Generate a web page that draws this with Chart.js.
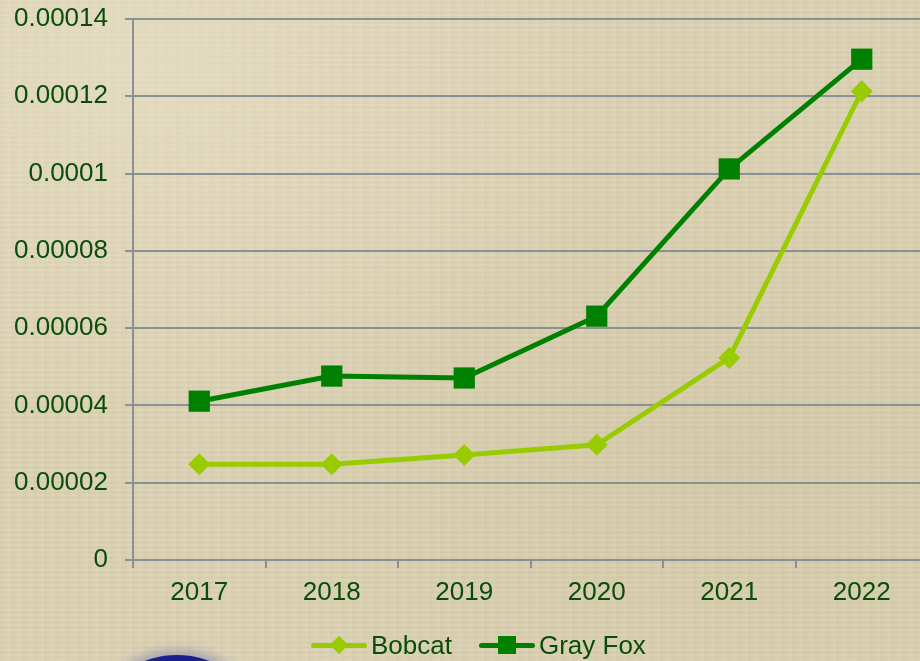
<!DOCTYPE html>
<html>
<head>
<meta charset="utf-8">
<script src="https://cdn.jsdelivr.net/npm/chart.js@4/dist/chart.umd.min.js"></script>
<style>
  html, body { margin: 0; padding: 0; overflow: hidden; width: 920px; height: 661px; }
  body {
    position: relative;
    font-family: "Liberation Sans", Arial, sans-serif;
    background-color: #dbd1b2;
    background-image:
      radial-gradient(ellipse at 15% 10%, rgba(235,228,205,0.55), rgba(235,228,205,0) 45%),
      radial-gradient(ellipse at 80% 70%, rgba(200,188,155,0.35), rgba(200,188,155,0) 50%),
      repeating-linear-gradient(0deg, rgba(255,255,255,0.06) 0px, rgba(255,255,255,0.06) 2px, rgba(0,0,0,0.025) 3px, rgba(0,0,0,0) 5px),
      repeating-linear-gradient(90deg, rgba(0,0,0,0.02) 0px, rgba(0,0,0,0) 7px, rgba(255,255,255,0.04) 11px);
  }
  #wrap { position: absolute; left: 0; top: 0; width: 943px; height: 661px; }
  #blob {
    position: absolute; left: 112px; top: 655px; width: 130px; height: 90px;
    border-radius: 50%; background: #1c1f8e;
    box-shadow: 0 0 10px 6px rgba(120,120,170,0.45);
  }
  #legend {
    position: absolute; top: 630px; left: 311px; height: 30px;
    display: flex; align-items: center; color: #0a4d0a; font-size: 26px;
  }
  .item { display: flex; align-items: center; margin-right: 27px; }
  .sw { position: relative; width: 56px; height: 30px; margin-right: 4px; }
  .sw .ln { position: absolute; left: 0; right: 0; top: 13px; height: 5px; border-radius: 3px; }
  .sw .mk { position: absolute; left: 50%; top: 50%; }
</style>
</head>
<body>
<div id="blob"></div>
<div id="wrap"><canvas id="chart"></canvas></div>
<div id="legend"></div>
<script>
// data
const years = ['2017', '2018', '2019', '2020', '2021', '2022'];
const bobcat = [0.0000248, 0.0000248, 0.0000272, 0.0000298, 0.0000523, 0.0001213];
const grayFox = [0.0000411, 0.0000476, 0.0000471, 0.0000631, 0.0001012, 0.0001296];
const yTicks = ['0', '0.00002', '0.00004', '0.00006', '0.00008', '0.0001', '0.00012', '0.00014'];

const textColor = '#0a4d0a';
const gridColor = '#8a9194';

const series = [
  { label: 'Bobcat', data: bobcat, color: '#99cc00', style: 'rectRot', radius: 11 },
  { label: 'Gray Fox', data: grayFox, color: '#008000', style: 'rect', radius: 15 }
];

new Chart(document.getElementById('chart').getContext('2d'), {
  type: 'line',
  data: {
    labels: years,
    datasets: series.map(s => ({
      label: s.label,
      data: s.data,
      borderColor: s.color,
      backgroundColor: s.color,
      borderWidth: 5,
      tension: 0,
      pointStyle: s.style,
      pointRadius: s.radius,
      pointHoverRadius: s.radius,
      pointBorderWidth: 0,
      pointBackgroundColor: s.color
    }))
  },
  options: {
    responsive: true,
    maintainAspectRatio: false,
    animation: false,
    layout: { padding: { top: 19, right: 0, bottom: 0, left: 0 } },
    plugins: {
      legend: { display: false },
      tooltip: { enabled: false }
    },
    scales: {
      x: {
        offset: true,
        grid: {
          offset: true,
          drawOnChartArea: false,
          drawTicks: true,
          tickLength: 8,
          color: gridColor,
          lineWidth: 2
        },
        border: { color: gridColor, width: 2 },
        ticks: {
          color: textColor,
          font: { family: 'Liberation Sans', size: 26 },
          padding: 9,
          maxRotation: 0
        },
        afterFit: (scale) => {
          scale.height = 101;
          scale.paddingLeft = 0;
          scale.paddingRight = 0;
        }
      },
      y: {
        min: 0,
        max: 0.00014,
        grid: {
          color: gridColor,
          lineWidth: 2,
          tickLength: 8
        },
        border: { color: gridColor, width: 2 },
        ticks: {
          stepSize: 0.00002,
          color: textColor,
          font: { family: 'Liberation Sans', size: 26 },
          padding: 17,
          callback: (value, i) => yTicks[i]
        },
        afterFit: (scale) => {
          scale.width = 133;
          scale.paddingTop = 0;
          scale.paddingBottom = 0;
        }
      }
    }
  }
});

// legend as html
const legend = document.getElementById('legend');
series.forEach(s => {
  const item = document.createElement('div');
  item.className = 'item';
  const sw = document.createElement('div');
  sw.className = 'sw';
  const ln = document.createElement('div');
  ln.className = 'ln';
  ln.style.background = s.color;
  const mk = document.createElement('div');
  mk.className = 'mk';
  mk.style.background = s.color;
  if (s.style === 'rect') {
    mk.style.width = '18px'; mk.style.height = '18px';
    mk.style.transform = 'translate(-50%, -50%)';
  } else {
    mk.style.width = '13px'; mk.style.height = '13px';
    mk.style.transform = 'translate(-50%, -50%) rotate(45deg)';
  }
  sw.appendChild(ln);
  sw.appendChild(mk);
  const txt = document.createElement('span');
  txt.textContent = s.label;
  item.appendChild(sw);
  item.appendChild(txt);
  legend.appendChild(item);
});
</script>
</body>
</html>
